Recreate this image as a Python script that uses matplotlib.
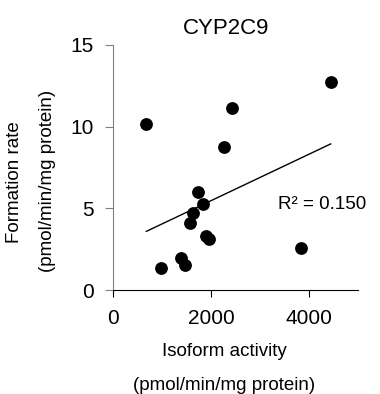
import matplotlib
matplotlib.use("Agg")
import matplotlib.pyplot as plt
import numpy as np

plt.rcParams['font.family'] = ['Liberation Sans', 'DejaVu Sans']

isoform_activity = [681, 973, 1382, 1469, 1579, 1633, 1735, 1831, 1905, 1953, 2265, 2436, 3845, 4443]
formation_rate = [10.14, 1.37, 1.94, 1.53, 4.08, 4.69, 6.02, 5.24, 3.33, 3.12, 8.77, 11.16, 2.59, 12.75]
r2_label = "R² = 0.150"
title = "CYP2C9"
x_ticks = [0, 2000, 4000]
y_ticks = [0, 5, 10, 15]

x = np.array(isoform_activity)
y = np.array(formation_rate)

W, H = 380, 394
fig = plt.figure(figsize=(W/100, H/100), dpi=100)
ax = fig.add_axes([113/W, 1-290/H, (358-113)/W, (290-45)/H])

ax.scatter(x, y, s=85, color='black', zorder=3, linewidths=0)
slope, intercept = np.polyfit(x, y, 1)
xf = np.array([x.min(), x.max()])
ax.plot(xf, slope*xf + intercept, color='black', lw=1)

ax.set_xlim(0, 5000)
ax.set_ylim(0, 15)
ax.set_xticks(x_ticks)
ax.set_yticks(y_ticks)
for s in ['top', 'right']:
    ax.spines[s].set_visible(False)
ax.spines['left'].set_color('#808080')
ax.spines['bottom'].set_color('black')
ax.tick_params(axis='x', direction='out', length=5, colors='black', labelsize=15, pad=9)
ax.tick_params(axis='y', direction='out', length=6, colors='#808080', labelcolor='black', labelsize=15, pad=8)

ax.text(278/W, 1-205/H, r2_label, transform=fig.transFigure, fontsize=13.6, ha='left', va='center')
fig.text(226/W, 1-28/H, title, ha='center', va='center', fontsize=16)

fig.text(224/W, 1-352/H, "Isoform activity", ha='center', va='center', fontsize=13.5)
fig.text(224/W, 1-385/H, "(pmol/min/mg protein)", ha='center', va='center', fontsize=13.5)
fig.text(15/W, 1-182/H, "Formation rate", ha='center', va='center', rotation=90, fontsize=13.5)
fig.text(48/W, 1-181/H, "(pmol/min/mg protein)", ha='center', va='center', rotation=90, fontsize=13.5)

fig.savefig("out.png", dpi=100)
